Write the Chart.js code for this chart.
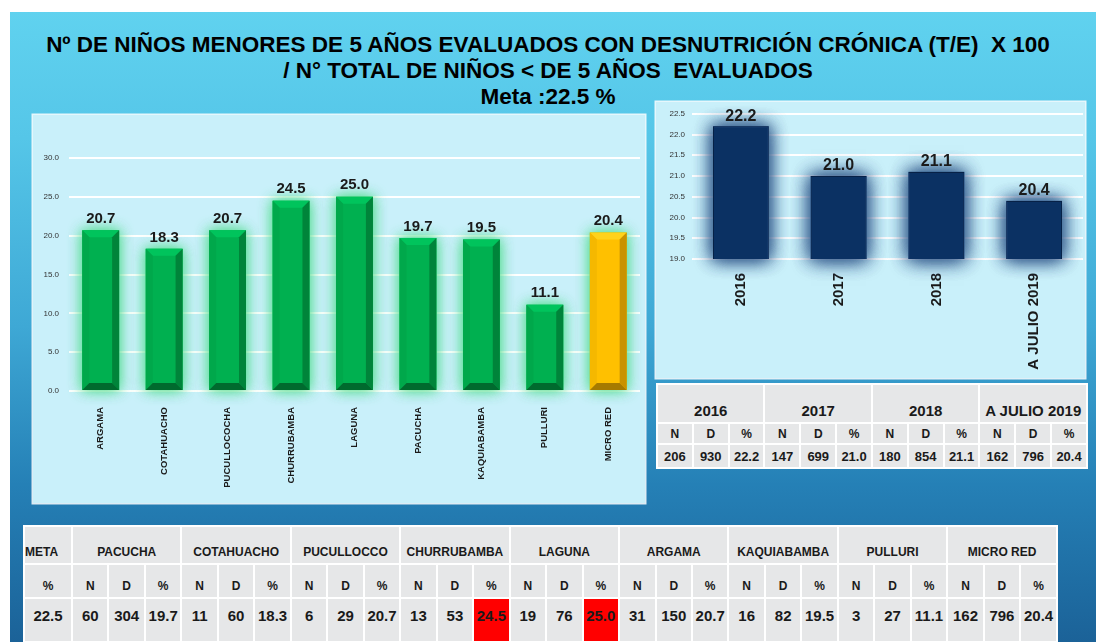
<!DOCTYPE html>
<html>
<head>
<meta charset="utf-8">
<script src="https://cdn.jsdelivr.net/npm/chart.js@4.4.1/dist/chart.umd.min.js"></script>
<style>
  body { margin: 0; width: 1096px; height: 642px; background: #fff; overflow: hidden; font-family: 'Liberation Sans', Arial, sans-serif; }
  #slide { position: absolute; left: 10px; top: 12px; width: 1086px; height: 630px;
    background: linear-gradient(to bottom, #60d2ef 0%, #55c6e8 20%, #3ea8d5 50%, #2580b6 75%, #1b6298 100%); }
  .title { position: absolute; left: 0; width: 1096px; text-align: center; font-weight: bold; color: #000; font-size: 22.5px; line-height: 26px; }
  .panel { position: absolute; background: #c9f0fa; box-shadow: 0 0 0 1.5px rgba(255,255,255,0.85); }
  table { position: absolute; border-collapse: collapse; table-layout: fixed; font-weight: bold; color: #1a1a1a; }
  td { background: #e6e7e8; border: 2px solid #fff; text-align: center; padding: 0; white-space: nowrap; overflow: hidden; }
  td.red { background: #ff0000; }
</style>
</head>
<body>
<div id="slide"></div>
<div class="title" style="top:32px;">Nº DE NIÑOS MENORES DE 5 AÑOS EVALUADOS CON DESNUTRICIÓN CRÓNICA (T/E)&nbsp;&nbsp;X 100</div>
<div class="title" style="top:58px;">/ N° TOTAL DE NIÑOS &lt; DE 5 AÑOS&nbsp;&nbsp;EVALUADOS</div>
<div class="title" style="top:84px;">Meta :22.5 %</div>

<div class="panel" style="left:33px;top:115px;width:612px;height:388px;">
  <canvas id="distritoChart" width="612" height="388"></canvas>
</div>
<div class="panel" style="left:656px;top:102px;width:429px;height:276px;">
  <canvas id="anualChart" width="429" height="276"></canvas>
</div>

<table id="anualTable" style="left:656px;top:383px;width:432px;height:84px;"></table>
<table id="distritoTable" style="left:23px;top:525px;width:1035px;height:116px;"></table>

<script>
// datos del grafico por establecimiento
const categories = ['ARGAMA', 'COTAHUACHO', 'PUCULLOCOCHA', 'CHURRUBAMBA', 'LAGUNA', 'PACUCHA', 'KAQUIABAMBA', 'PULLURI', 'MICRO RED'];
const percentValues = [20.7, 18.3, 20.7, 24.5, 25.0, 19.7, 19.5, 11.1, 20.4];
const distTicks = [0, 5, 10, 15, 20, 25, 30];

// datos por año
const years = ['2016', '2017', '2018', 'A JULIO 2019'];
const yearValues = [22.2, 21.0, 21.1, 20.4];
const yearN = [206, 147, 180, 162];
const yearD = [930, 699, 854, 796];
const yearTicks = [19.0, 19.5, 20.0, 20.5, 21.0, 21.5, 22.0, 22.5];

// tabla inferior
const meta = 22.5;
const tableNames = ['PACUCHA', 'COTAHUACHO', 'PUCULLOCCO', 'CHURRUBAMBA', 'LAGUNA', 'ARGAMA', 'KAQUIABAMBA', 'PULLURI', 'MICRO RED'];
const tableN = [60, 11, 6, 13, 19, 31, 16, 3, 162];
const tableD = [304, 60, 29, 53, 76, 150, 82, 27, 796];
const tablePct = [19.7, 18.3, 20.7, 24.5, 25.0, 20.7, 19.5, 11.1, 20.4];

const FONT = "'Liberation Sans', Arial, sans-serif";

// soft halo behind each bar
function glowPlugin(color, blur, passes) {
    return {
        id: 'glow',
        beforeDatasetsDraw(chart) {
            const ctx = chart.ctx;
            const bottom = chart.chartArea.bottom;
            ctx.save();
            ctx.shadowColor = color;
            ctx.shadowBlur = blur;
            ctx.fillStyle = color;
            chart.getDatasetMeta(0).data.forEach(bar => {
                const p = bar.getProps(['x', 'y', 'base', 'width'], true);
                const b = Math.min(p.base, bottom);
                for (let k = 0; k < passes; k++) {
                    ctx.fillRect(p.x - p.width / 2, p.y, p.width, b - p.y);
                }
            });
            ctx.restore();
        }
    };
}

// 3D bevel frame on the district bars
const bevelPlugin = {
    id: 'bevel',
    afterDatasetsDraw(chart) {
        const ctx = chart.ctx;
        chart.getDatasetMeta(0).data.forEach((bar, i) => {
            const p = bar.getProps(['x', 'y', 'base', 'width'], true);
            const l = p.x - p.width / 2, r = p.x + p.width / 2, t = p.y, b = p.base, s = 7;
            const yellow = i === categories.length - 1;
            const shades = yellow
                ? { top: '#ffd21a', left: '#f5b800', right: '#c99200', bottom: '#a67a00' }
                : { top: '#00c45c', left: '#00a84b', right: '#00843a', bottom: '#006a2e' };
            const poly = (pts, c) => {
                ctx.fillStyle = c;
                ctx.beginPath();
                ctx.moveTo(pts[0][0], pts[0][1]);
                pts.slice(1).forEach(q => ctx.lineTo(q[0], q[1]));
                ctx.closePath();
                ctx.fill();
            };
            poly([[l, t], [r, t], [r - s, t + s], [l + s, t + s]], shades.top);
            poly([[l, t], [l + s, t + s], [l + s, b - s], [l, b]], shades.left);
            poly([[r, t], [r, b], [r - s, b - s], [r - s, t + s]], shades.right);
            poly([[l, b], [l + s, b - s], [r - s, b - s], [r, b]], shades.bottom);
        });
    }
};

function valueLabels(fontSize, gap) {
    return {
        id: 'valueLabels',
        afterDatasetsDraw(chart) {
            const ctx = chart.ctx;
            const ds = chart.data.datasets[0];
            ctx.save();
            ctx.font = 'bold ' + fontSize + 'px ' + FONT;
            ctx.fillStyle = '#1a1a1a';
            ctx.textAlign = 'center';
            ctx.textBaseline = 'bottom';
            chart.getDatasetMeta(0).data.forEach((bar, i) => {
                ctx.fillText(ds.data[i].toFixed(1), bar.x, bar.y - gap);
            });
            ctx.restore();
        }
    };
}

// Main chart by district
new Chart(document.getElementById('distritoChart').getContext('2d'), {
    type: 'bar',
    data: {
        labels: categories,
        datasets: [{
            data: percentValues,
            backgroundColor: categories.map((c, i) => i === categories.length - 1 ? '#ffc000' : '#00b050'),
            categoryPercentage: 1,
            barPercentage: 0.58
        }]
    },
    options: {
        responsive: false,
        animation: false,
        layout: { padding: { top: 43, right: 5 } },
        plugins: { legend: { display: false }, tooltip: { enabled: false } },
        scales: {
            x: {
                grid: { display: false },
                border: { display: false },
                ticks: { minRotation: 90, maxRotation: 90, padding: 8, color: '#1a1a1a', font: { family: FONT, size: 9.5, weight: 'bold' } },
                afterFit(scale) { scale.height = 112; }
            },
            y: {
                min: 0, max: 30,
                afterBuildTicks(scale) { scale.ticks = distTicks.map(v => ({ value: v })); },
                grid: { color: '#ffffff', lineWidth: 2, drawTicks: false },
                border: { display: false },
                ticks: { padding: 10, color: '#333', font: { family: FONT, size: 8 }, callback: v => v.toFixed(1) },
                afterFit(scale) { scale.width = 36; }
            }
        }
    },
    plugins: [glowPlugin('rgba(80,220,140,0.9)', 14, 2), bevelPlugin, valueLabels(15, 4)]
});

// Chart by year
new Chart(document.getElementById('anualChart').getContext('2d'), {
    type: 'bar',
    data: {
        labels: years,
        datasets: [{
            data: yearValues,
            backgroundColor: '#0b3163',
            borderColor: '#072147',
            borderWidth: 1,
            categoryPercentage: 1,
            barPercentage: 0.57
        }]
    },
    options: {
        responsive: false,
        animation: false,
        layout: { padding: { top: 8, right: 2 } },
        plugins: { legend: { display: false }, tooltip: { enabled: false } },
        scales: {
            x: {
                grid: { display: false },
                border: { display: false },
                ticks: { minRotation: 90, maxRotation: 90, padding: 6, color: '#1a1a1a', font: { family: FONT, size: 15, weight: 'bold' } },
                afterFit(scale) { scale.height = 119; }
            },
            y: {
                min: 19, max: 22.5,
                afterBuildTicks(scale) { scale.ticks = yearTicks.map(v => ({ value: v })); },
                grid: { color: '#ffffff', lineWidth: 2, drawTicks: false },
                border: { display: false },
                ticks: { padding: 7, color: '#333', font: { family: FONT, size: 8 }, callback: v => v.toFixed(1) },
                afterFit(scale) { scale.width = 36; }
            }
        }
    },
    plugins: [glowPlugin('rgba(50,90,140,0.9)', 18, 3), valueLabels(16, 2)]
});

// Year table
let html = '<colgroup>' + '<col>'.repeat(12) + '</colgroup>';
html += '<tr style="height:39px">' + years.map(y => '<td colspan="3" style="vertical-align:bottom;padding-bottom:3px;font-size:15px">' + y + '</td>').join('') + '</tr>';
html += '<tr style="height:21px;font-size:12px">' + years.map(() => '<td>N</td><td>D</td><td>%</td>').join('') + '</tr>';
html += '<tr style="height:24px;font-size:13px">' + years.map((y, i) =>
    '<td>' + yearN[i] + '</td><td>' + yearD[i] + '</td><td>' + yearValues[i].toFixed(1) + '</td>').join('') + '</tr>';
document.getElementById('anualTable').innerHTML = html;

// District table
const bot = 'vertical-align:bottom;padding-bottom:4px';
const topv = 'vertical-align:top;padding-top:8px';
html = '<colgroup><col style="width:48px">' + '<col>'.repeat(27) + '</colgroup>';
html += '<tr style="height:38px;font-size:12px"><td style="' + bot + ';text-align:left">META</td>' +
    tableNames.map(n => '<td colspan="3" style="' + bot + '">' + n + '</td>').join('') + '</tr>';
html += '<tr style="height:34px;font-size:12px"><td style="' + bot + '">%</td>' +
    tableNames.map(() => '<td style="' + bot + '">N</td><td style="' + bot + '">D</td><td style="' + bot + '">%</td>').join('') + '</tr>';
html += '<tr style="height:44px;font-size:15px"><td style="' + topv + '">' + meta.toFixed(1) + '</td>' +
    tableNames.map((n, i) => '<td style="' + topv + '">' + tableN[i] + '</td><td style="' + topv + '">' + tableD[i] + '</td>' +
        '<td class="' + (tablePct[i] > meta ? 'red' : '') + '" style="' + topv + '">' + tablePct[i].toFixed(1) + '</td>').join('') + '</tr>';
document.getElementById('distritoTable').innerHTML = html;
</script>
</body>
</html>
